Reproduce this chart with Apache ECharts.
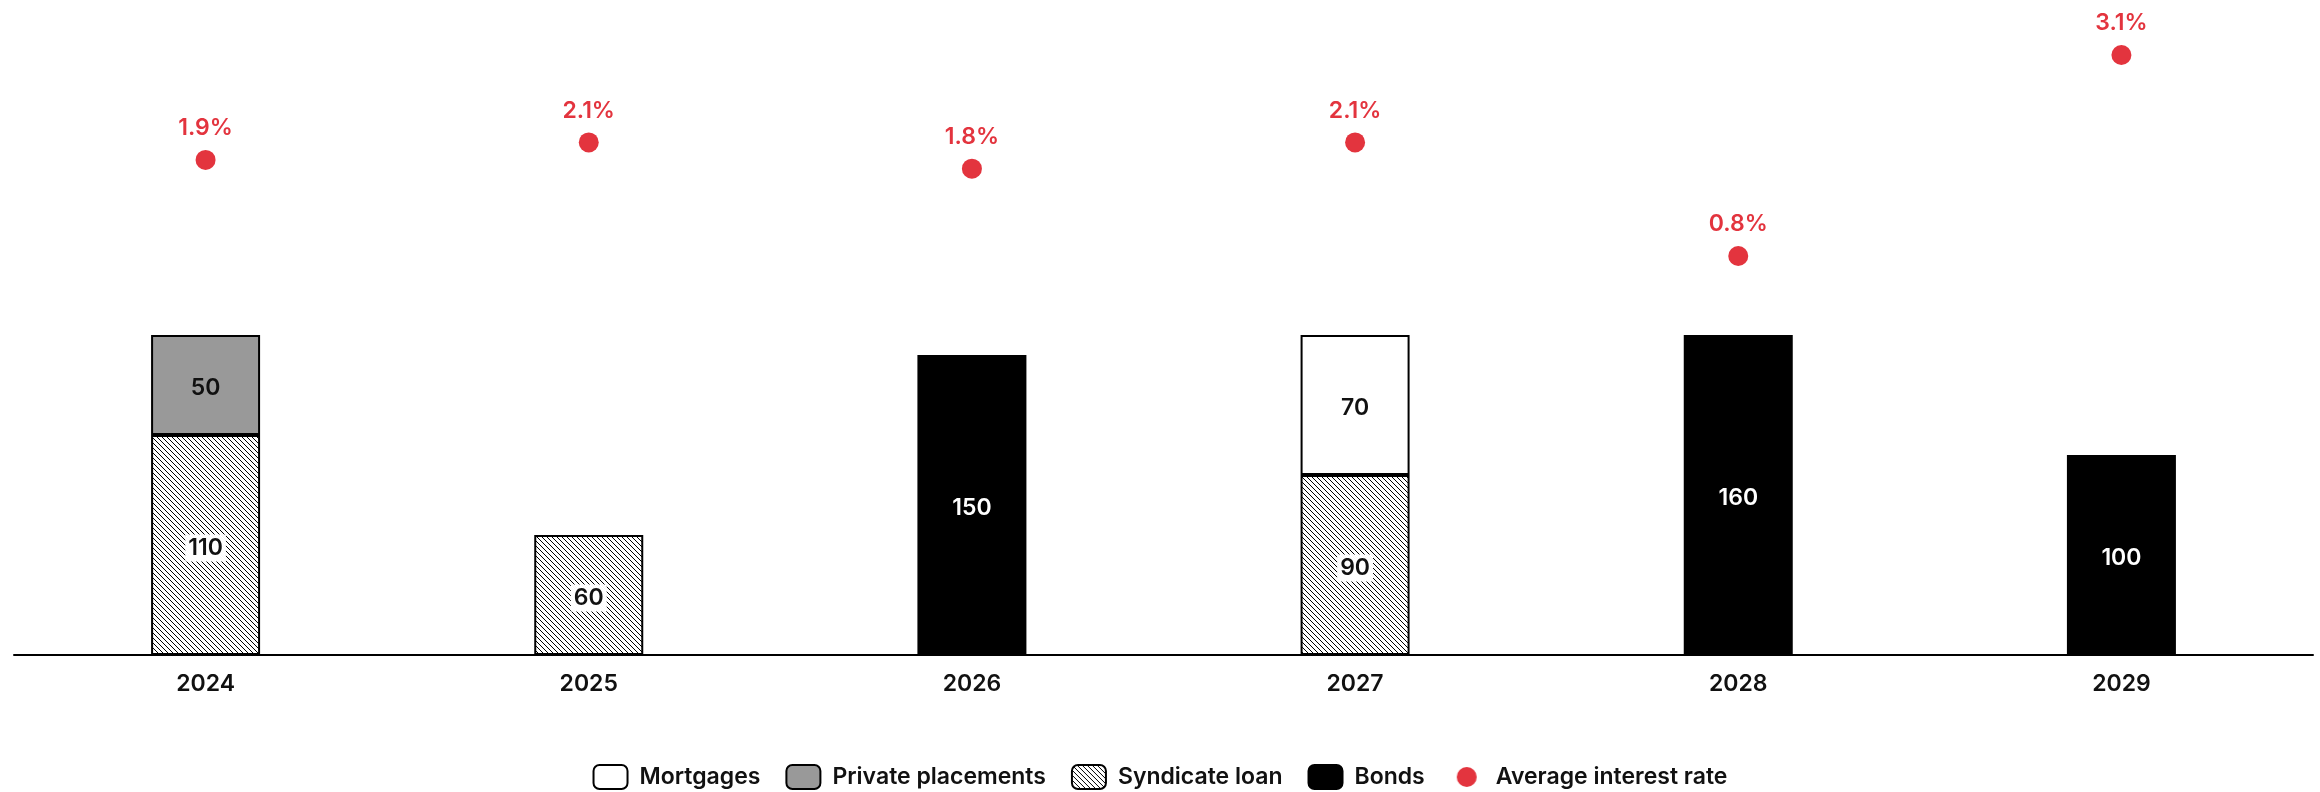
<!DOCTYPE html>
<html>
<head>
<meta charset="utf-8">
<script src="https://cdn.jsdelivr.net/npm/echarts@6/dist/echarts.min.js"></script>
<style>
  html, body { margin: 0; padding: 0; background: #fff; }
  #chart { width: 2320px; height: 792px; }
</style>
</head>
<body>
<div id="chart"></div>
<script>
// Funding maturities by year (EUR m) and average interest rate (%)
const categories = ['2024', '2025', '2026', '2027', '2028', '2029'];
const mortgages = [null, null, null, 70, null, null];
const privatePlacements = [50, null, null, null, null, null];
const syndicateLoan = [110, 60, null, 90, null, null];
const bonds = [null, null, 150, null, 160, 100];
const avgRate = [1.9, 2.1, 1.8, 2.1, 0.8, 3.1];

const FONT = 'Inter';
const WEIGHT = 600;
const RED = '#e3343e';

// Diagonal hatch tile for the syndicate loan fill
function hatchPattern() {
  const size = 5;
  const c = document.createElement('canvas');
  c.width = size; c.height = size;
  const ctx = c.getContext('2d');
  ctx.fillStyle = '#fff';
  ctx.fillRect(0, 0, size, size);
  ctx.fillStyle = '#000';
  for (let i = 0; i < size; i++) ctx.fillRect(i, i, 1, 1);
  return c;
}

// Legend icon: a 20px dot centred in the 34x24 legend box
function dotIcon() {
  const c = document.createElement('canvas');
  c.width = 34; c.height = 24;
  const ctx = c.getContext('2d');
  ctx.fillStyle = RED;
  ctx.beginPath();
  ctx.arc(17, 12, 10, 0, Math.PI * 2);
  ctx.fill();
  return 'image://' + c.toDataURL();
}

const hatch = { image: hatchPattern(), repeat: 'repeat' };

const barBase = {
  type: 'bar',
  stack: 'funding',
  barWidth: 109,
  yAxisIndex: 0,
  label: {
    show: true,
    position: 'inside',
    offset: [0, 3],
    fontFamily: FONT,
    fontWeight: WEIGHT,
    fontSize: 23,
    color: '#111'
  }
};

const chart = echarts.init(document.getElementById('chart'), null, { renderer: 'canvas' });
chart.setOption({
  animation: false,
  backgroundColor: '#fff',
  grid: { left: 14, right: 7, top: 15, bottom: 137, containLabel: false },
  legend: {
    top: 759,
    left: 'center',
    itemWidth: 34,
    itemHeight: 24,
    itemGap: 25,
    textStyle: { fontFamily: FONT, fontWeight: WEIGHT, fontSize: 23, color: '#111', padding: [0, 0, 0, 7] },
    data: [
      { name: 'Mortgages', icon: 'roundRect' },
      { name: 'Private placements', icon: 'roundRect' },
      { name: 'Syndicate loan', icon: 'roundRect' },
      { name: 'Bonds', icon: 'roundRect' },
      { name: 'Average interest rate', icon: dotIcon() }
    ]
  },
  xAxis: {
    type: 'category',
    data: categories,
    axisLine: { show: true, lineStyle: { color: '#000', width: 2 } },
    axisTick: { show: false },
    axisLabel: { fontFamily: FONT, fontWeight: WEIGHT, fontSize: 23, color: '#111', margin: 18 }
  },
  yAxis: [
    { type: 'value', min: 0, max: 320, show: false, splitLine: { show: false } },
    { type: 'value', min: -3.765, max: 3.558, show: false, splitLine: { show: false } }
  ],
  series: [
    Object.assign({}, barBase, {
      name: 'Syndicate loan',
      data: syndicateLoan,
      itemStyle: { color: hatch, borderColor: '#000', borderWidth: 2 },
      label: Object.assign({}, barBase.label, { backgroundColor: '#fff', padding: [2, 3] })
    }),
    Object.assign({}, barBase, {
      name: 'Bonds',
      data: bonds,
      itemStyle: { color: '#000', borderColor: '#000', borderWidth: 2 },
      label: Object.assign({}, barBase.label, { color: '#fff' })
    }),
    Object.assign({}, barBase, {
      name: 'Private placements',
      data: privatePlacements,
      itemStyle: { color: '#999999', borderColor: '#000', borderWidth: 2 }
    }),
    Object.assign({}, barBase, {
      name: 'Mortgages',
      data: mortgages,
      itemStyle: { color: '#fff', borderColor: '#000', borderWidth: 2 }
    }),
    {
      name: 'Average interest rate',
      type: 'scatter',
      yAxisIndex: 1,
      data: avgRate,
      symbol: 'circle',
      symbolSize: 20,
      itemStyle: { color: RED, opacity: 1 },
      label: {
        show: true,
        position: 'top',
        distance: 10,
        formatter: p => p.value.toFixed(1) + '%',
        fontFamily: FONT,
        fontWeight: WEIGHT,
        fontSize: 23,
        color: RED
      }
    }
  ]
});
</script>
</body>
</html>
